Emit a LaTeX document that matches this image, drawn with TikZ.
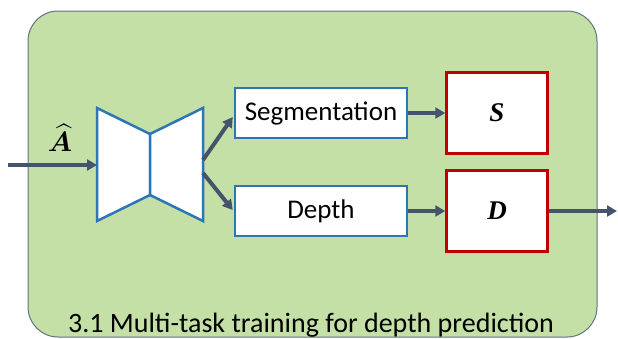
\documentclass[tikz,border=0pt]{standalone}
\usepackage{amsmath,amssymb}
\usepackage{bm}
\usepackage{graphicx}
\usepackage{fontspec}
\setmainfont{Carlito}
\newfontfamily\symserif{Liberation Serif}
\usepackage{xcolor}
\usetikzlibrary{arrows.meta, positioning, calc}

\definecolor{panelgreen}{HTML}{C5E0A6}
\definecolor{panelline}{HTML}{5F7280}
\definecolor{netblue}{HTML}{2E75B6}
\definecolor{outred}{HTML}{C00000}
\definecolor{arrowslate}{HTML}{44546A}

\begin{document}
\begin{tikzpicture}[x=1pt, y=-1pt,
  task/.style={rectangle, draw=netblue, fill=white, line width=2.5pt,
               minimum width=172pt, minimum height=50pt, inner sep=0pt,
               font=\fontsize{27}{30}\selectfont},
  result/.style={rectangle, draw=outred, fill=white, line width=2.5pt,
                 minimum width=101pt, minimum height=81pt, inner sep=0pt,
                 font=\symserif\bfseries\itshape\fontsize{27}{30}\selectfont},
  net/.style={draw=netblue, fill=white, line width=2.5pt, line join=miter},
  arrow/.style={-{Triangle[length=10pt, width=11pt]}, line width=4pt, arrowslate},
  caption/.style={anchor=base, font=\fontsize{28}{32}\selectfont}
]
\useasboundingbox (0,0) rectangle (618,338);

%% Panel
\draw[fill=panelgreen, draw=panelline, line width=1pt, rounded corners=30pt]
  (28,11) rectangle (597,337);
\node[caption] (cap) at (311,332) {3.1 Multi-task training for depth prediction};

%% Encoder-decoder
\draw[net] (97,108) -- (150,134) -- (150,195) -- (97,221) -- cycle;
\draw[net] (203,108) -- (150,134) -- (150,195) -- (203,221) -- cycle;
\coordinate (encin) at (97,165);
\coordinate (decout1) at (203,160);
\coordinate (decout2) at (203,173);
\coordinate (src) at (8,165);

%% Heads
\node[task] (seg) at (321,113) {Segmentation};
\node[task] (depth) at (321,211) {Depth};
\node[result] (S) at (497,113) {S};
\node[result] (D) at (497,211) {D};
\coordinate (sink) at (617,211);

%% Input label
\node[inner sep=0pt] (ahat) at (60,138) {\scalebox{2.8}{$\bm{\widehat{A}}$}};

%% Arrows
\draw[arrow] (src) -- (encin);
\draw[arrow] (decout1) -- ($(seg.west)+(-1,4)$);
\draw[arrow] (decout2) -- ($(depth.west)+(-1,-1)$);
\draw[arrow] (seg) -- (S);
\draw[arrow] (depth) -- (D);
\draw[arrow] (D) -- (sink);
\end{tikzpicture}
\end{document}
